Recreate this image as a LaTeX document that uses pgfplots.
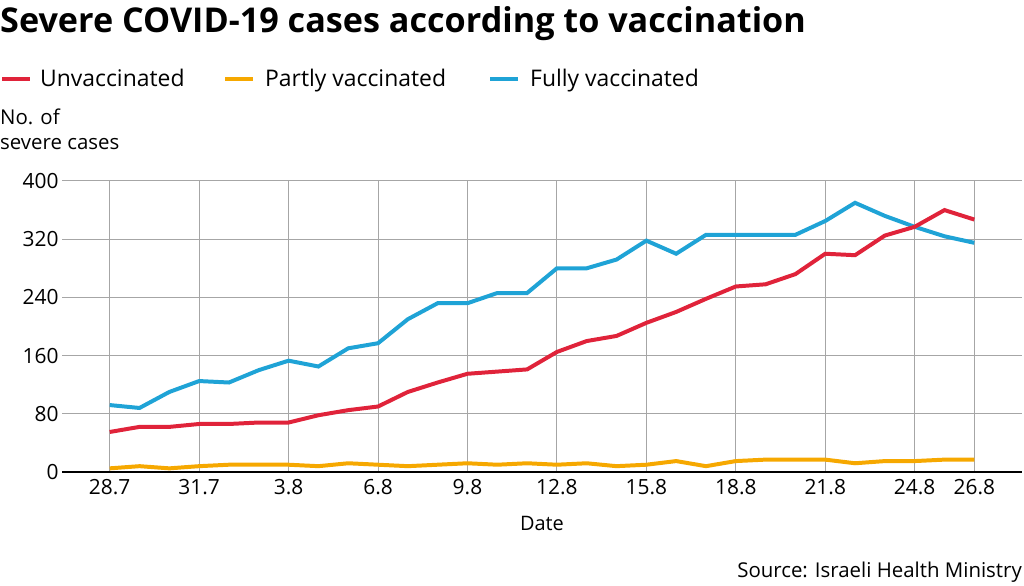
\documentclass[border=0pt]{standalone}
\usepackage{pgfplots}
\pgfplotsset{compat=1.18}
\usepackage{fontspec}
\setmainfont{Open Sans}
\definecolor{cred}{HTML}{E0233A}
\definecolor{corg}{HTML}{F6A800}
\definecolor{cblue}{HTML}{1FA3D6}
\begin{document}
\begin{tikzpicture}[x=1bp,y=1bp]
\path[use as bounding box] (0,0) rectangle (1024,586);
\node[anchor=base west,inner sep=0,font=\bfseries\fontsize{34.3}{38}\selectfont] at (0,553) {Severe COVID-19 cases according to vaccination};
\draw[cred,line width=4] (2,507)--(30,507); \node[anchor=base west,inner sep=0,font=\fontsize{23}{26}\selectfont] at (40,499) {Unvaccinated};
\draw[corg,line width=4] (225,507)--(253,507); \node[anchor=base west,inner sep=0,font=\fontsize{23}{26}\selectfont] at (265,499) {Partly vaccinated};
\draw[cblue,line width=4] (490,507)--(518,507); \node[anchor=base west,inner sep=0,font=\fontsize{23}{26}\selectfont] at (530,499) {Fully vaccinated};
\node[anchor=base west,inner sep=0,font=\fontsize{20.5}{24}\selectfont] at (0,461) {No. of};
\node[anchor=base west,inner sep=0,font=\fontsize{20.5}{24}\selectfont] at (0,436) {severe cases};
\node[anchor=base east,inner sep=0,font=\fontsize{20.5}{23}\selectfont] at (1022,8) {Source: Israeli Health Ministry};
\begin{axis}[at={(62bp,114bp)},anchor=south west,scale only axis,width=960bp,height=291bp,
 xmin=-1.6,xmax=30.6,ymin=0,ymax=400,
 xtick={0,3,...,27,29},xticklabels={28.7,31.7,3.8,6.8,9.8,12.8,15.8,18.8,21.8,24.8,26.8},
 grid=major,grid style={gray!70,line width=1pt},
 ytick={0,80,...,400},
 axis line style={draw=none},axis x line*=bottom,x axis line style={draw=black,line width=1.2pt},
 tick style={draw=none},
 ticklabel style={font=\fontsize{21}{24}\selectfont},
 /pgf/number format/assume math mode=true,
 yticklabel style={anchor=east,xshift=0bp},
 xticklabel style={yshift=-4bp},
 xlabel={Date},xlabel style={font=\fontsize{20}{24}\selectfont,yshift=-14bp},
 clip=false]
\addplot[cblue,line width=4] coordinates {(0,92)(1,88)(2,110)(3,125)(4,123)(5,140)(6,153)(7,145)(8,170)(9,177)(10,210)(11,232)(12,232)(13,246)(14,246)(15,280)(16,280)(17,292)(18,318)(19,300)(20,326)(21,326)(22,326)(23,326)(24,345)(25,370)(26,352)(27,337)(28,324)(29,315)};
\addplot[cred,line width=4] coordinates {(0,55)(1,62)(2,62)(3,66)(4,66)(5,68)(6,68)(7,78)(8,85)(9,90)(10,110)(11,123)(12,135)(13,138)(14,141)(15,165)(16,180)(17,187)(18,205)(19,220)(20,238)(21,255)(22,258)(23,272)(24,300)(25,298)(26,325)(27,337)(28,360)(29,347)};
\addplot[corg,line width=4] coordinates {(0,5)(1,8)(2,5)(3,8)(4,10)(5,10)(6,10)(7,8)(8,12)(9,10)(10,8)(11,10)(12,12)(13,10)(14,12)(15,10)(16,12)(17,8)(18,10)(19,15)(20,8)(21,15)(22,17)(23,17)(24,17)(25,12)(26,15)(27,15)(28,17)(29,17)};
\end{axis}
\end{tikzpicture}
\end{document}
